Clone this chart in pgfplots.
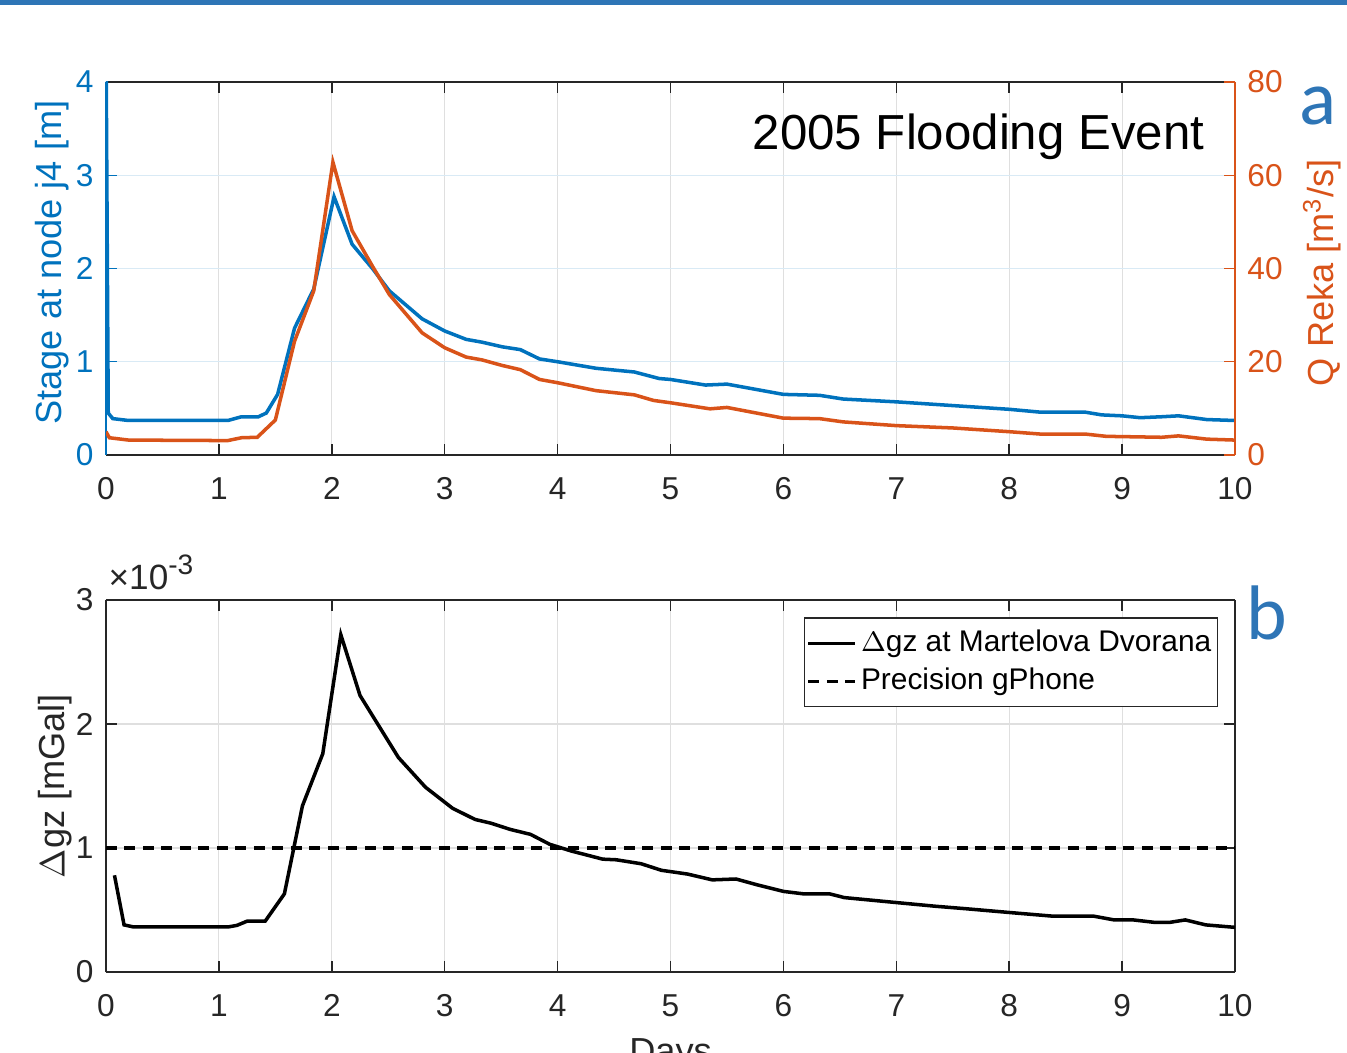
\documentclass[border=0pt]{standalone}
\usepackage{fontspec}
\setmainfont{Liberation Sans}
\newfontfamily\slidefont{Carlito}
\usepackage{pgfplots}
\pgfplotsset{compat=1.18}

\definecolor{mblue}{HTML}{0072BD}
\definecolor{morange}{HTML}{D95319}
\definecolor{mgray}{HTML}{262626}
\definecolor{gridgray}{HTML}{DFDFDF}
\definecolor{gridblue}{HTML}{D9EAF5}
\definecolor{slideblue}{HTML}{2E75B6}

\pgfplotsset{
  mstyle/.style={
    scale only axis, width=112.9mm,
    xmin=0, xmax=10, enlargelimits=false,
    xtick={0,...,10},
    tick align=inside, major tick length=1.1mm,
    /pgf/number format/assume math mode=true,
    tick label style={font=\fontsize{9}{10}\selectfont},
    xticklabel style={text=mgray, yshift=-1mm},
    xtick style={draw=mgray, line width=0.4pt},
    separate axis lines,
    x axis line style={draw=mgray, line width=0.45pt},
    label style={font=\fontsize{10.3}{12}\selectfont},
  }
}

\begin{document}
\begin{tikzpicture}
\path[use as bounding box] (0,0) rectangle (134.7mm,105.3mm);
\fill[slideblue] (0,104.8mm) rectangle (134.7mm,105.3mm);

% top panel, left axis: stage
\begin{axis}[mstyle, height=37.3mm,
  at={(10.6mm,59.8mm)}, anchor=south west,
  ymin=0, ymax=4, ytick={0,1,2,3,4}, ytick pos=left,
  xtick pos=both,
  yticklabel style={text=mblue},
  ytick style={draw=mblue, line width=0.4pt},
  y axis line style={draw=mblue, line width=0.45pt},
  xmajorgrids, ymajorgrids,
  major x grid style={draw=gridgray, line width=0.3pt},
  major y grid style={draw=gridblue, line width=0.3pt},
  ylabel={Stage at node j4 [m]},
  ylabel style={text=mblue, at={(axis description cs:-0.0478,0.516)}, anchor=center},
]
\addplot[mblue, line width=1pt] coordinates {
(0,4.5) (0.02,0.45) (0.06,0.39) (0.2,0.37) (0.5,0.37) (1.0,0.37) (1.08,0.37)
(1.2,0.41) (1.35,0.41) (1.42,0.45) (1.52,0.65) (1.67,1.36) (1.84,1.78)
(2.02,2.77) (2.18,2.26) (2.36,2.0) (2.51,1.76) (2.8,1.46) (3.0,1.33)
(3.19,1.24) (3.33,1.21) (3.51,1.16) (3.67,1.13) (3.84,1.03) (4.0,1.0)
(4.34,0.93) (4.68,0.89) (4.9,0.82) (5.0,0.81) (5.31,0.75) (5.5,0.76)
(6.0,0.65) (6.32,0.64) (6.53,0.60) (7.0,0.57) (7.5,0.53) (8.0,0.49)
(8.27,0.46) (8.67,0.46) (8.82,0.43) (9.0,0.42) (9.16,0.40) (9.35,0.41)
(9.5,0.42) (9.75,0.38) (10,0.37)
};
\node[anchor=base east, inner sep=0pt, font=\fontsize{14}{16}\selectfont]
  at (axis cs:9.734,3.271) {2005 Flooding Event};
\end{axis}

% top panel, right axis: discharge
\begin{axis}[mstyle, height=37.3mm,
  at={(10.6mm,59.8mm)}, anchor=south west,
  axis x line=none, axis y line*=right,
  ymin=0, ymax=80, ytick={0,20,40,60,80},
  yticklabel style={text=morange},
  ytick style={draw=morange, line width=0.4pt},
  y axis line style={draw=morange, line width=0.45pt},
  ylabel={Q Reka [m\textsuperscript{3}/s]},
  ylabel style={text=morange, at={(axis description cs:1.077,0.489)}, anchor=center},
]
\addplot[morange, line width=1pt] coordinates {
(0,5.0) (0.03,3.7) (0.2,3.2) (1.0,3.1) (1.08,3.1) (1.2,3.7) (1.34,3.8)
(1.5,7.5) (1.67,24.4) (1.84,35.2) (2.01,62.8) (2.18,48.1) (2.36,40.5)
(2.51,34.4) (2.8,26.2) (3.0,23.0) (3.19,21.0) (3.33,20.4) (3.51,19.2)
(3.67,18.3) (3.84,16.2) (4.0,15.5) (4.34,13.8) (4.68,12.9) (4.85,11.7)
(5.0,11.2) (5.35,9.9) (5.5,10.2) (6.0,7.9) (6.32,7.8) (6.53,7.1) (7.0,6.3)
(7.5,5.8) (8.0,5.0) (8.27,4.5) (8.67,4.5) (8.86,4.0) (9.35,3.8) (9.5,4.1)
(9.75,3.4) (10,3.2)
};
\end{axis}

% bottom panel: gravity change (values in 1e-3 mGal)
\begin{axis}[mstyle, height=37.2mm,
  at={(10.6mm,8.1mm)}, anchor=south west,
  ymin=0, ymax=3, ytick={0,1,2,3},
  xtick pos=both, ytick pos=both,
  yticklabel style={text=mgray},
  ytick style={draw=mgray, line width=0.4pt},
  y axis line style={draw=mgray, line width=0.45pt},
  xmajorgrids, ymajorgrids,
  major grid style={draw=gridgray, line width=0.3pt},
  ylabel={$\Delta$gz [mGal]},
  ylabel style={text=mgray, at={(axis description cs:-0.045,0.5)}, anchor=center},
  xlabel={Days},
  xlabel style={text=mgray, at={(axis description cs:0.5,-0.245)}, anchor=base},
  legend style={at={(0.985,0.954)}, anchor=north east, draw=mgray,
    line width=0.4pt, font=\fontsize{8.5}{10}\selectfont, text=black,
    inner xsep=0.2mm, inner ysep=0.5mm, row sep=-0.3mm,
    nodes={inner xsep=0.4mm}},
  legend cell align=left,
  legend image code/.code={\draw[#1] (0mm,0mm) -- (4.7mm,0mm);},
]
\addplot[black, line width=1pt] coordinates {
(0.075,0.78) (0.16,0.38) (0.245,0.363) (1.08,0.363) (1.16,0.376) (1.25,0.41)
(1.41,0.41) (1.58,0.63) (1.74,1.34) (1.92,1.76) (2.08,2.72) (2.25,2.23)
(2.42,1.98) (2.59,1.73) (2.83,1.49) (3.07,1.32) (3.27,1.23) (3.41,1.20)
(3.58,1.15) (3.76,1.11) (3.93,1.03) (4.12,0.976) (4.4,0.91) (4.52,0.905)
(4.74,0.873) (4.92,0.82) (5.15,0.79) (5.37,0.743) (5.58,0.75) (5.78,0.70)
(6.0,0.65) (6.18,0.63) (6.41,0.63) (6.54,0.60) (7.0,0.56) (7.35,0.53)
(7.62,0.51) (8.0,0.48) (8.39,0.45) (8.75,0.45) (8.93,0.42) (9.1,0.42)
(9.29,0.40) (9.42,0.40) (9.56,0.42) (9.74,0.38) (10,0.36)
};
\addlegendentry{$\Delta$gz at Martelova Dvorana}
\addplot[black, line width=1pt, dash pattern=on 1.1mm off 0.75mm] coordinates {(0,1) (10,1)};
\addlegendentry{Precision gPhone}
\end{axis}

\node[anchor=base west, inner sep=0pt, text=mgray, font=\fontsize{10}{11}\selectfont]
  at (10.8mm,46.3mm) {×10\raisebox{0.85ex}{\fontsize{8}{9}\selectfont -3}};
\node[anchor=base, text=slideblue, font=\slidefont\fontsize{22}{24}\selectfont] at (131.8mm,92.8mm) {a};
\node[anchor=base, text=slideblue, font=\slidefont\fontsize{22}{24}\selectfont] at (126.7mm,41.3mm) {b};
\end{tikzpicture}
\end{document}
